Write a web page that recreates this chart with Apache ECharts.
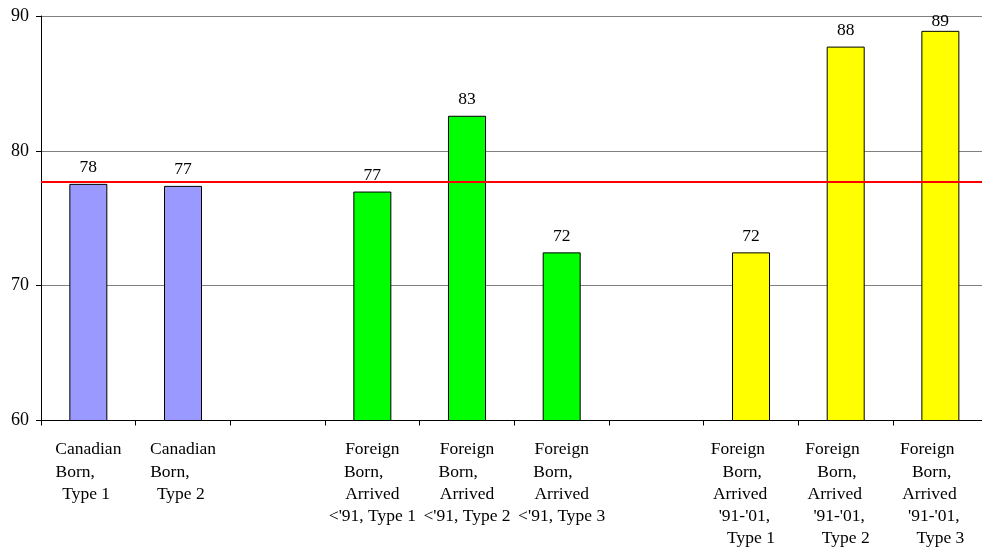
<!DOCTYPE html>
<html>
<head>
<meta charset="utf-8">
<script src="https://cdn.jsdelivr.net/npm/echarts@6/dist/echarts.min.js"></script>
<style>
  html, body { margin: 0; padding: 0; background: #ffffff; }
  #chart { width: 982px; height: 547px; }
</style>
</head>
<body>
<div id="chart"></div>
<script>
// Category labels (line breaks as shown under the axis); empty slots separate the groups
const categories = [
  'Canadian\nBorn,\nType 1',
  'Canadian\nBorn,\nType 2',
  '',
  "Foreign\nBorn,\nArrived\n<'91, Type 1",
  "Foreign\nBorn,\nArrived\n<'91, Type 2",
  "Foreign\nBorn,\nArrived\n<'91, Type 3",
  '',
  "Foreign\nBorn,\nArrived\n'91-'01,\nType 1",
  "Foreign\nBorn,\nArrived\n'91-'01,\nType 2",
  "Foreign\nBorn,\nArrived\n'91-'01,\nType 3"
];

// Bar values (null = spacer slot)
const values = [77.55, 77.4, null, 76.98, 82.6, 72.47, null, 72.47, 87.73, 88.9];

// Group of each category
const groups = ['canadian', 'canadian', null, 'before91', 'before91', 'before91', null, 'from91to01', 'from91to01', 'from91to01'];

// Reference level drawn across the chart
const referenceLevel = 77.73;

// Y axis range and tick step
const yMin = 60;
const yMax = 90;
const yStep = 10;

// ---- styling ----
const groupColors = { canadian: '#9999FF', before91: '#00FF00', from91to01: '#FFFF00' };
const FONT = '"Liberation Serif", "Times New Roman", serif';
const FS = 17.5;
// trailing spaces per label line (mimics the uneven centring of the wrapped labels)
const linePad = [
  [0, 6, 1], [0, 6, 1], [],
  [0, 4, 0, 0], [0, 4, 0, 0], [0, 4, 0, 0], [],
  [6, 4, 5, 3, 0], [6, 4, 5, 3, 0], [6, 4, 5, 3, 0]
];

const chart = echarts.init(document.getElementById('chart'), null, { renderer: 'canvas' });

const barData = values.map((v, i) => {
  if (v === null) return null;
  const item = {
    value: v,
    itemStyle: { color: groupColors[groups[i]], borderColor: '#000000', borderWidth: 1 }
  };
  // keep the label of the tallest bar inside the plot area
  if (v > yMax - 1.5) item.label = { distance: 0.5 };
  return item;
});

chart.setOption({
  animation: false,
  backgroundColor: '#ffffff',
  grid: { left: 41, top: 16, width: 946.7, height: 404.5, containLabel: false, outerBoundsMode: 'none' },
  xAxis: {
    type: 'category',
    data: categories,
    boundaryGap: true,
    axisLine: { show: true, lineStyle: { color: '#000000', width: 1 } },
    axisTick: { show: true, alignWithLabel: false, length: 5, lineStyle: { color: '#000000' } },
    axisLabel: {
      interval: 0,
      hideOverlap: false,
      color: '#000000',
      fontFamily: FONT,
      fontSize: FS,
      lineHeight: 22.3,
      margin: 18,
      align: 'center',
      formatter: (val, idx) => val.split('\n').map((line, k) => line + ' '.repeat((linePad[idx] || [])[k] || 0)).join('\n')
    },
    splitLine: { show: false }
  },
  yAxis: {
    type: 'value',
    min: yMin,
    max: yMax,
    interval: yStep,
    axisLine: { show: true, lineStyle: { color: '#000000', width: 1 } },
    axisTick: { show: true, length: 5, lineStyle: { color: '#000000' } },
    axisLabel: { color: '#000000', fontFamily: FONT, fontSize: 18, margin: 12 },
    splitLine: { show: true, lineStyle: { color: '#808080', width: 1 } }
  },
  series: [{
    type: 'bar',
    data: barData,
    barWidth: 38,
    label: {
      show: true,
      position: 'top',
      distance: 7,
      color: '#000000',
      fontFamily: FONT,
      fontSize: FS,
      formatter: p => String(Math.round(p.value))
    },
    markLine: {
      silent: true,
      symbol: ['none', 'none'],
      label: { show: false },
      lineStyle: { color: '#FF0000', width: 2, type: 'solid' },
      data: [{ yAxis: referenceLevel }]
    }
  }]
});
</script>
</body>
</html>
